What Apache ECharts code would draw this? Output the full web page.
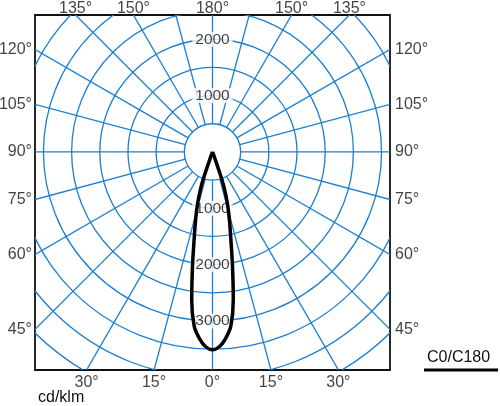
<!DOCTYPE html>
<html>
<head>
<meta charset="utf-8">
<script src="https://cdn.jsdelivr.net/npm/echarts@6/dist/echarts.min.js"></script>
<style>
html,body{margin:0;padding:0;background:#fff;}
#chart{width:500px;height:406px;}
</style>
</head>
<body>
<div id="chart"></div>
<script>
// ---- data ----
const gammaAngles = [0, 2, 4, 6, 8, 10, 12, 14, 16, 18, 19, 20, 20.5];
const intensityC0   = [3510, 3460, 3320, 3110, 2650, 2040, 1560, 1240, 965, 675, 434, 130, 0];
const intensityC180 = [3510, 3460, 3320, 3110, 2650, 2040, 1560, 1240, 965, 675, 434, 130, 0];
const ringRadii = [500, 1000, 1500, 2000, 2500, 3000, 3500, 4000, 4500, 5000];
const radialAngles = [0, 15, 30, 45, 60, 75, 90, 105, 120, 135, 150, 165, 180, 195, 210, 225, 240, 255, 270, 285, 300, 315, 330, 345];
const intensityLabelsUp = [1000, 2000];
const intensityLabelsDown = [1000, 2000, 3000];
const bottomTickAngles = [-30, -15, 0, 15, 30];
const sideTickAngles = [45, 60, 75, 90, 105, 120];
const topTickAngles = [-135, -150, 180, 150, 135];
const unitLabel = 'cd/klm';
const planeLabel = 'C0/C180';

// ---- axis extents (cd/klm) ----
const X_MIN = -3150, X_MAX = 3150, Y_MIN = -3870, Y_MAX = 2430;
const BLUE = '#1a7fd2';
const FONT = 'Liberation Sans, Arial, sans-serif';

function dir(deg) {
  const a = deg * Math.PI / 180;
  return [Math.sin(a), -Math.cos(a)];
}
function boxHit(deg) {
  const d = dir(deg);
  let t = Infinity;
  if (d[0] > 1e-9) t = Math.min(t, X_MAX / d[0]);
  if (d[0] < -1e-9) t = Math.min(t, X_MIN / d[0]);
  if (d[1] > 1e-9) t = Math.min(t, Y_MAX / d[1]);
  if (d[1] < -1e-9) t = Math.min(t, Y_MIN / d[1]);
  return [d[0] * t, d[1] * t];
}

// curve points: C180 half on left (negative angle), C0 half on right
const curve = [];
for (let i = gammaAngles.length - 1; i >= 0; i--) {
  const d = dir(-gammaAngles[i]);
  curve.push([d[0] * intensityC180[i], d[1] * intensityC180[i]]);
}
for (let i = 1; i < gammaAngles.length; i++) {
  const d = dir(gammaAngles[i]);
  curve.push([d[0] * intensityC0[i], d[1] * intensityC0[i]]);
}

const labelText = {color: '#111', fontSize: 16, fontFamily: FONT};

function clipRect(params) {
  const c = params.coordSys;
  return {type: 'rect', shape: {x: c.x, y: c.y, width: c.width, height: c.height}};
}

const chart = echarts.init(document.getElementById('chart'), null, {renderer: 'canvas'});
chart.setOption({
  animation: false,
  grid: {left: 35, top: 15, width: 355, height: 355, show: true, borderColor: '#111', borderWidth: 1.8, backgroundColor: 'transparent'},
  xAxis: {type: 'value', min: X_MIN, max: X_MAX, show: false},
  yAxis: {type: 'value', min: Y_MIN, max: Y_MAX, show: false},
  series: [
    {
      type: 'custom', name: 'rings', z: 1, silent: true,
      data: ringRadii.map(r => [r]),
      renderItem: function (params, api) {
        const c = api.coord([0, 0]);
        const r = api.size([api.value(0), 0])[0];
        return {type: 'circle', shape: {cx: c[0], cy: c[1], r: r},
          style: {fill: 'none', stroke: BLUE, lineWidth: 1.3}, clipPath: clipRect(params)};
      }
    },
    {
      type: 'custom', name: 'radials', z: 1, silent: true,
      data: radialAngles.map(a => [a]),
      renderItem: function (params, api) {
        const d = dir(api.value(0));
        const p0 = api.coord([d[0] * ringRadii[0], d[1] * ringRadii[0]]);
        const rOut = ringRadii[ringRadii.length - 1];
        const p1 = api.coord([d[0] * rOut, d[1] * rOut]);
        return {type: 'line', shape: {x1: p0[0], y1: p0[1], x2: p1[0], y2: p1[1]},
          style: {stroke: BLUE, lineWidth: 1.3}, clipPath: clipRect(params)};
      }
    },
    {
      type: 'scatter', name: 'intensityLabels', z: 3, silent: true, clip: false,
      symbolSize: 0,
      data: intensityLabelsUp.map(v => [0, v, String(v)]).concat(intensityLabelsDown.map(v => [0, -v, String(v)])),
      label: Object.assign({}, labelText, {show: true, position: 'inside', formatter: p => p.value[2],
        fontSize: 15.5, backgroundColor: '#fff', padding: [0, 3, 0, 3], lineHeight: 15})
    },
    {
      type: 'line', name: 'C0/C180', z: 5, silent: true, clip: false,
      data: curve, showSymbol: false, symbol: 'none', smooth: 0.25,
      lineStyle: {color: '#000', width: 3.5}
    },
    {
      type: 'scatter', name: 'bottomTicks', silent: true, clip: false, symbolSize: 0,
      data: bottomTickAngles.map(a => boxHit(a).concat([Math.abs(a) + '°'])),
      label: Object.assign({show: true, position: 'bottom', distance: 5, formatter: p => p.value[2]}, labelText)
    },
    {
      type: 'scatter', name: 'rightTicks', silent: true, clip: false, symbolSize: 0,
      data: sideTickAngles.map(a => boxHit(a).concat([a + '°'])),
      label: Object.assign({show: true, position: 'right', distance: 5, formatter: p => p.value[2]}, labelText)
    },
    {
      type: 'scatter', name: 'leftTicks', silent: true, clip: false, symbolSize: 0,
      data: sideTickAngles.map(a => boxHit(-a).concat([a + '°'])),
      label: Object.assign({show: true, position: 'left', distance: 3, formatter: p => p.value[2]}, labelText)
    },
    {
      type: 'scatter', name: 'topTicks', silent: true, clip: false, symbolSize: 0,
      data: topTickAngles.map(a => boxHit(a).concat([Math.abs(a) + '°'])),
      label: Object.assign({show: true, position: 'top', distance: 0, offset: [0, 2], formatter: p => p.value[2]}, labelText)
    }
  ],
  graphic: [
    {type: 'text', left: 38, top: 390, style: {text: unitLabel, fill: '#111', font: '16px ' + FONT}},
    {type: 'text', left: 427, top: 350, style: {text: planeLabel, fill: '#111', font: '16px ' + FONT}},
    {type: 'line', shape: {x1: 424, y1: 370, x2: 498, y2: 370}, style: {stroke: '#000', lineWidth: 3}}
  ]
});
</script>
</body>
</html>
